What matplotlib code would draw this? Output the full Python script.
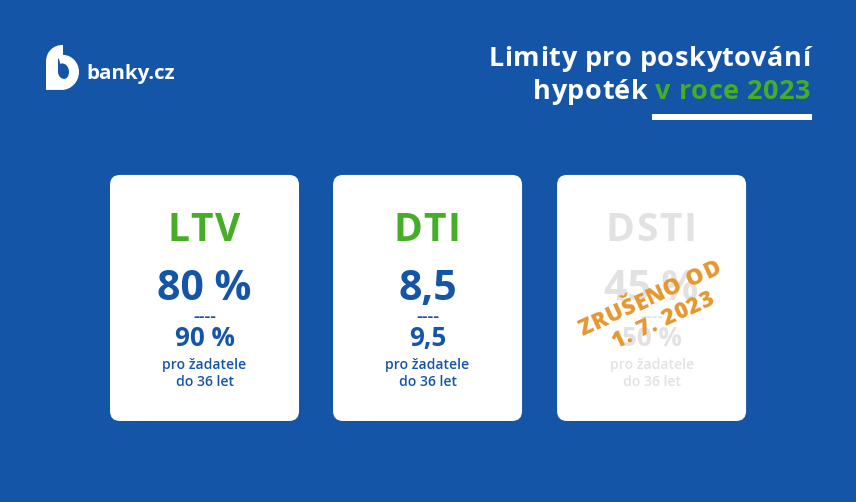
import math
import matplotlib
matplotlib.use('Agg')
import matplotlib.pyplot as plt
from matplotlib.font_manager import FontProperties
from matplotlib.patches import FancyBboxPatch, PathPatch, Rectangle
from matplotlib.path import Path as MPath

BLUE = '#1555a8'
GREEN = '#45ad26'
GREY = '#e2e2e2'
ORANGE = '#e5972f'

names = ['LTV', 'DTI', 'DSTI']
main_values = ['80 %', '8,5', '45 %']
young_values = ['90 %', '9,5', '50 %']
young_note = ['pro žadatele', 'do 36 let']
stamp_lines = ['ZRUŠENO OD', '1. 7. 2023']
title_lines = ['Limity pro poskytování', 'hypoték', 'v roce 2023']

plt.rcParams['font.family'] = 'Open Sans'

# 5.02 * 100 truncates to 501 px, hence the bit extra
fig = plt.figure(figsize=(8.561, 5.021), dpi=100, facecolor=BLUE)
ax = fig.add_axes([0, 0, 1, 1])
ax.set_xlim(0, 856)
ax.set_ylim(502, 0)
ax.axis('off')
renderer = fig.canvas.get_renderer()


def px(size):
    return size * 0.72


def width(s, prop):
    return renderer.get_text_width_height_descent(s, prop, False)[0]


def char_offset(s, i, prop):
    # width up to this char minus the char itself, so kerning stays in
    return width(s[:i + 1] + 'x', prop) - width(s[i] + 'x', prop)


def spaced_text(x, y, s, size, color, weight='bold', spacing=0.0, ha='center', rotation=0, zorder=2):
    """Letter by letter text, x,y is the baseline anchor. Returns left edge."""
    prop = FontProperties(family='Open Sans', size=px(size), weight=weight)
    total = width(s, prop) + spacing * (len(s) - 1)
    shift = {'left': 0, 'center': total / 2, 'right': total}[ha]
    ca, sa = math.cos(math.radians(rotation)), math.sin(math.radians(rotation))
    for i, ch in enumerate(s):
        if ch == ' ':
            continue
        d = char_offset(s, i, prop) + spacing * i - shift
        ax.text(x + d * ca, y - d * sa, ch, color=color, fontproperties=prop,
                rotation=rotation, rotation_mode='anchor', ha='left', va='baseline',
                zorder=zorder)
    return x - shift * ca


def draw_logo():
    M, L, C, Z = MPath.MOVETO, MPath.LINETO, MPath.CURVE4, MPath.CLOSEPOLY
    verts = [
        (46, 90), (46, 62),
        (46, 52), (53, 45), (63, 45),
        (63, 55),
        (72, 55), (79, 63), (79, 72),
        (79, 82), (71, 90), (62, 90),
        (46, 90), (46, 90),
        # counter of the b
        (58, 58), (58, 72),
        (58, 76), (61, 79), (64, 79),
        (67, 79), (69, 76), (69, 72),
        (69, 66), (64, 62), (60, 64),
        (60, 60), (58, 58), (58, 58),
        (58, 58),
    ]
    codes = [M, L, C, C, C, L, C, C, C, C, C, C, L, Z,
             M, L, C, C, C, C, C, C, C, C, C, C, C, C, Z]
    ax.add_patch(PathPatch(MPath(verts, codes), fc='white', ec='none', zorder=2))
    ax.text(86, 78.5, 'banky.cz', color='white', fontsize=px(20.5), fontweight='bold',
            ha='left', va='baseline', zorder=2)


def draw_title():
    spaced_text(810, 66, title_lines[0], 27, 'white', spacing=0.55, ha='right')
    left = spaced_text(810, 99, title_lines[2], 27, GREEN, spacing=0.5, ha='right')
    spaced_text(left - 8, 99, title_lines[1], 27, 'white', spacing=0.5, ha='right')
    ax.add_patch(Rectangle((652, 114), 160, 6, fc='white', ec='none'))


def draw_card(i, x0):
    ax.add_patch(FancyBboxPatch((x0 + 10, 185), 169, 226,
                                boxstyle='round,pad=10,rounding_size=10',
                                fc='white', ec='none', zorder=1))
    cx = x0 + 94.5
    faded = i == 2
    head = GREY if faded else GREEN
    body = GREY if faded else BLUE
    spaced_text(cx - 0.5, 241, names[i], 39, head, spacing=1.6)
    ax.text(cx, 300, main_values[i], color=body, fontsize=px(41), fontweight='bold',
            ha='center', va='baseline', zorder=2)
    ax.text(cx, 322, '----', color=body, fontsize=px(18), fontweight='semibold',
            ha='center', va='baseline', zorder=2)
    ax.text(cx, 346, young_values[i], color=body, fontsize=px(26), fontweight='bold',
            ha='center', va='baseline', zorder=2)
    ax.text(cx, 369, young_note[0], color=body, fontsize=px(14), fontweight='semibold',
            ha='center', va='baseline', zorder=2)
    ax.text(cx, 386, young_note[1], color=body, fontsize=px(14), fontweight='semibold',
            ha='center', va='baseline', zorder=2)


def draw_stamp():
    spaced_text(652, 304, stamp_lines[0], 22.5, ORANGE, weight=800, spacing=0.6, rotation=24.5, zorder=3)
    spaced_text(665, 326, stamp_lines[1], 22.5, ORANGE, weight=800, spacing=0.6, rotation=24.5, zorder=3)


draw_logo()
draw_title()
for i, x0 in enumerate([110, 333, 557]):
    draw_card(i, x0)
draw_stamp()

fig.savefig('out.png', dpi=100, facecolor=BLUE)
